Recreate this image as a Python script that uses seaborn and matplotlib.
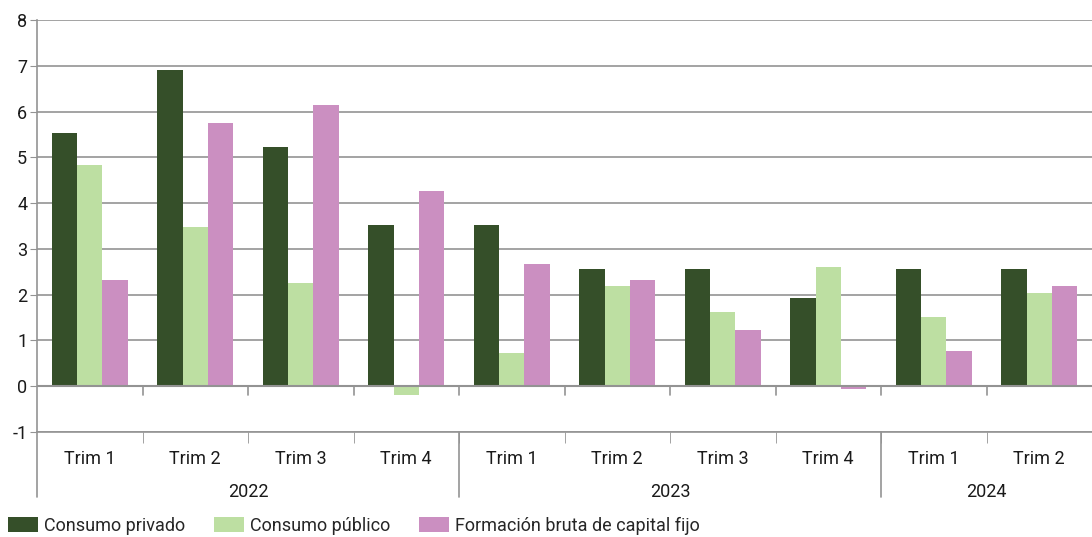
import matplotlib
matplotlib.use("Agg")
import matplotlib.pyplot as plt
import matplotlib.transforms as mtransforms
import seaborn as sns
import pandas as pd

# datos
periodos = ['2022-T1', '2022-T2', '2022-T3', '2022-T4',
            '2023-T1', '2023-T2', '2023-T3', '2023-T4',
            '2024-T1', '2024-T2']
trimestres = ['Trim 1', 'Trim 2', 'Trim 3', 'Trim 4',
              'Trim 1', 'Trim 2', 'Trim 3', 'Trim 4',
              'Trim 1', 'Trim 2']
anios = ['2022', '2023', '2024']
anios_n = [4, 4, 2]

consumo_privado = [5.53, 6.90, 5.23, 3.52, 3.52, 2.55, 2.55, 1.92, 2.55, 2.55]
consumo_publico = [4.83, 3.47, 2.25, -0.20, 0.73, 2.20, 1.63, 2.60, 1.52, 2.03]
fbcf = [2.32, 5.75, 6.15, 4.27, 2.67, 2.32, 1.23, -0.07, 0.78, 2.20]

series = ['Consumo privado', 'Consumo público', 'Formación bruta de capital fijo']
colores = ['#354f29', '#bddfa2', '#cb8fc1']

df = pd.DataFrame({
    'periodo': periodos * 3,
    'serie': [series[0]] * 10 + [series[1]] * 10 + [series[2]] * 10,
    'valor': consumo_privado + consumo_publico + fbcf,
})

sns.set_style('white')
plt.rcParams['font.family'] = ['Roboto', 'DejaVu Sans']
plt.rcParams['font.size'] = 13
plt.rcParams['axes.unicode_minus'] = False

fig = plt.figure(figsize=(10.92, 5.37), dpi=100)
ax = fig.add_axes([37 / 1092, 105 / 537, 1 - 37 / 1092, 412 / 537])

sns.barplot(data=df, x='periodo', y='valor', hue='serie', order=periodos,
            hue_order=series, palette=colores, width=0.72, linewidth=0,
            saturation=1, ax=ax)

gris = '#939393'
texto = '#1a1a1a'
ax.set_ylim(-1, 8)
ax.set_xlim(-0.5, 9.5)
ax.set_yticks(range(-1, 9))
ax.yaxis.grid(True, color=gris, linewidth=1.2)
ax.set_axisbelow(True)
ax.axhline(0, color=gris, linewidth=1.5, zorder=1)
for s in ['top', 'right']:
    ax.spines[s].set_visible(False)
ax.spines['left'].set_color(gris)
ax.spines['bottom'].set_color(gris)
ax.spines['left'].set_linewidth(1.2)
ax.spines['bottom'].set_linewidth(1.2)

ax.set_xlabel('')
ax.set_ylabel('')
ax.set_xticks(range(10))
ax.set_xticklabels(trimestres, color=texto)
ax.tick_params(axis='x', length=0, pad=13)
ax.tick_params(axis='y', length=5, color=gris, left=True, labelcolor=texto, pad=2)
ax.set_xticks([i + 0.5 for i in range(9)], minor=True)
ax.tick_params(axis='x', which='minor', length=8, color=gris, bottom=True)

# marcas en la linea de cero
for i in range(9):
    ax.plot([i + 0.5, i + 0.5], [0, -0.2], color=gris, linewidth=1.2, zorder=1)

# separadores y etiquetas de anio
trans = mtransforms.blended_transform_factory(ax.transData, ax.transAxes)
inicio = 0
for anio, n in zip(anios, anios_n):
    ax.plot([inicio - 0.5, inicio - 0.5], [0, -0.158], color=gris, linewidth=1.2,
            transform=trans, clip_on=False)
    ax.text(inicio + (n - 1) / 2, -0.145, anio, transform=trans, ha='center',
            va='center', color=texto)
    inicio += n

ax.legend(loc='upper left', bbox_to_anchor=(-29 / 1055, -0.205), ncol=3,
          frameon=False, handlelength=1.65, handleheight=0.9, handletextpad=0.35,
          columnspacing=1.6, borderaxespad=0, borderpad=0)

fig.savefig('out.png', dpi=100)
